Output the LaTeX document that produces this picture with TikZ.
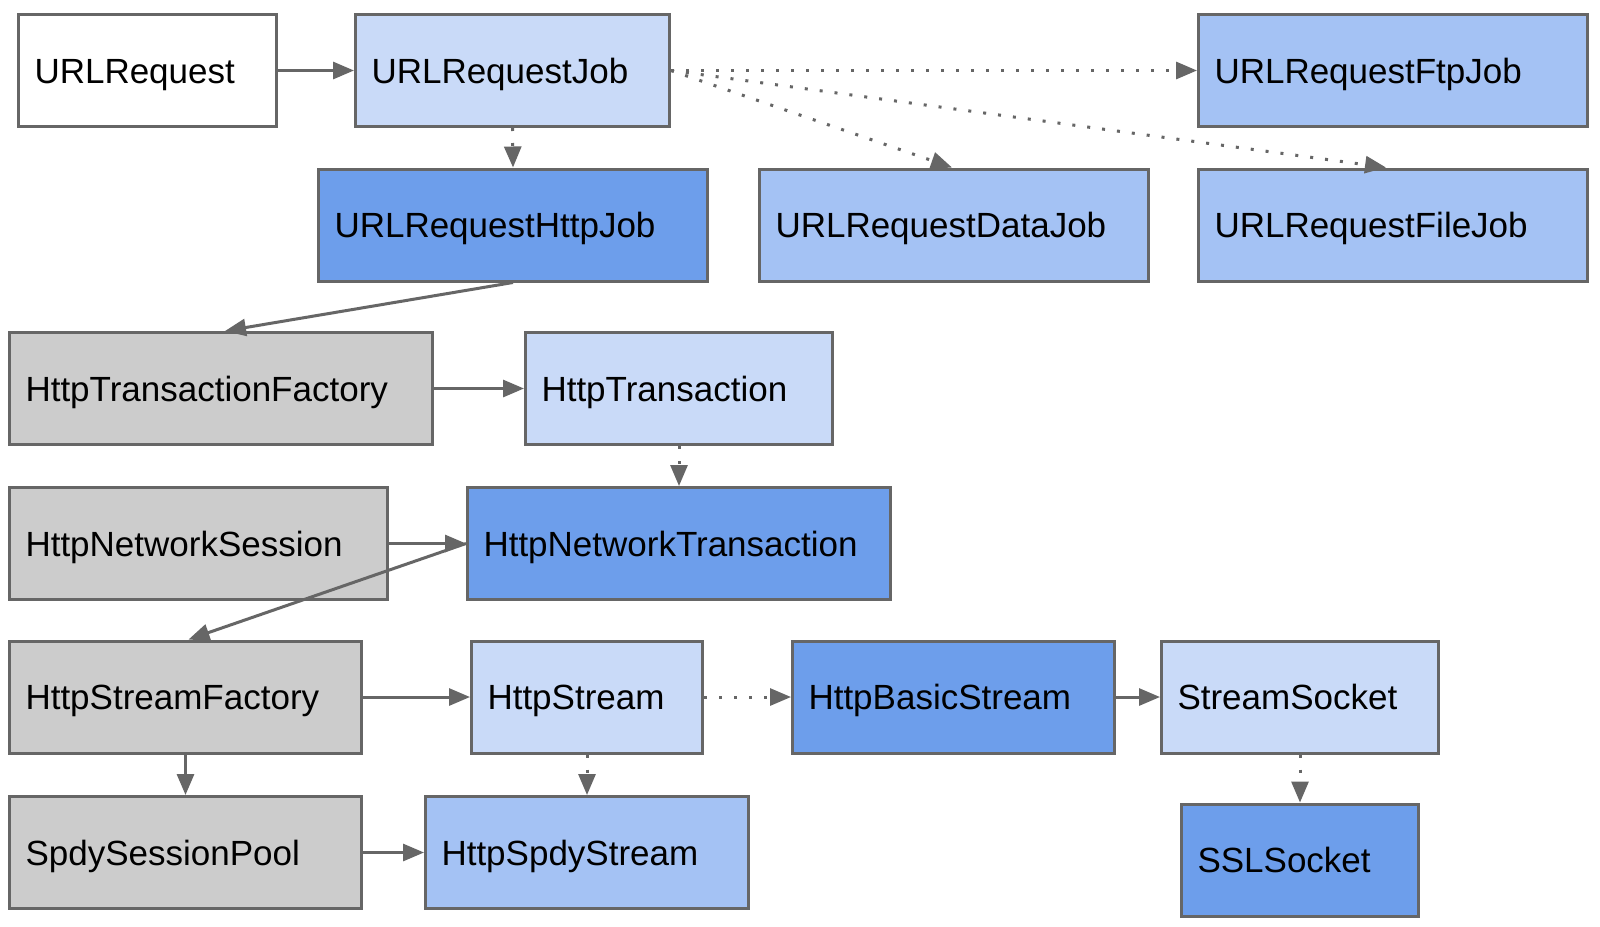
\documentclass[tikz,border=0pt]{standalone}
\usepackage{fontspec}
\setmainfont{Liberation Sans}
\usetikzlibrary{arrows.meta}
\definecolor{edgegray}{HTML}{666666}
\definecolor{lightblue}{HTML}{C9DAF8}
\definecolor{midblue}{HTML}{A4C2F4}
\definecolor{darkblue}{HTML}{6D9EEB}
\definecolor{graybox}{HTML}{CCCCCC}
\tikzset{
  box/.style={draw=edgegray, line width=1.5pt, rectangle, minimum height=56pt,
    inner xsep=8pt, inner ysep=0pt, text height=12.5pt, text depth=0pt,
    align=left, font=\fontsize{17.5}{20}\selectfont, anchor=center},
  bw/.style={minimum width=#1, text width=#1-16pt},
  solidarrow/.style={draw=edgegray, line width=1.5pt, -{Triangle[length=10.5pt,width=8.5pt]}},
  dotarrow/.style={solidarrow, dash pattern=on 1.5pt off 6pt},
}
\begin{document}
\begin{tikzpicture}[x=0.5pt, y=-0.5pt]
\fill[white] (0,0) rectangle (1600,926);
\useasboundingbox (0,0) rectangle (1600,926);

\node[box, bw=129pt, fill=white] (req) at (147.5,70.5) {URLRequest};
\node[box, bw=157pt, fill=lightblue] (job) at (512.5,70.5) {URLRequestJob};
\node[box, bw=194.5pt, fill=midblue] (ftp) at (1393,70.5) {URLRequestFtpJob};
\node[box, bw=194.5pt, fill=darkblue] (http) at (513,225) {URLRequestHttpJob};
\node[box, bw=194.5pt, fill=midblue] (data) at (954,225) {URLRequestDataJob};
\node[box, bw=194.5pt, fill=midblue] (file) at (1393,225) {URLRequestFileJob};
\node[box, bw=211.5pt, fill=graybox] (tf) at (221,388.5) {HttpTransactionFactory};
\node[box, bw=153.5pt, fill=lightblue] (tr) at (679,388.5) {HttpTransaction};
\node[box, bw=189pt, fill=graybox] (ns) at (198.5,543.5) {HttpNetworkSession};
\node[box, bw=211.5pt, fill=darkblue] (nt) at (679,543.5) {HttpNetworkTransaction};
\node[box, bw=176pt, fill=graybox] (sf) at (185.5,697) {HttpStreamFactory};
\node[box, bw=115.5pt, fill=lightblue] (hs) at (587,697) {HttpStream};
\node[box, bw=161pt, fill=darkblue] (bs) at (953.5,697) {HttpBasicStream};
\node[box, bw=138.5pt, fill=lightblue] (ss) at (1300,697) {StreamSocket};
\node[box, bw=176pt, fill=graybox] (sp) at (185.5,852.5) {SpdySessionPool};
\node[box, bw=161.5pt, fill=midblue] (sps) at (587,852.5) {HttpSpdyStream};
\node[box, bw=118.5pt, fill=darkblue] (ssl) at (1300,860) {SSLSocket};

\draw[solidarrow] (req.east) -- (job.west);
\draw[dotarrow] (job.south) -- (http.north);
\draw[dotarrow] (job.east) -- (ftp.west);
\draw[dotarrow] (job.east) -- ([xshift=-1pt]data.north);
\draw[dotarrow] (job.east) -- ([xshift=-3.5pt]file.north);
\draw[solidarrow] (http.south) -- ([xshift=2pt]tf.north);
\draw[solidarrow] (tf.east) -- (tr.west);
\draw[dotarrow] (tr.south) -- (nt.north);
\draw[solidarrow] (ns.east) -- (nt.west);
\draw[solidarrow] (nt.west) -- ([xshift=1.5pt]sf.north);
\draw[solidarrow] (sf.east) -- (hs.west);
\draw[dotarrow] (hs.east) -- (bs.west);
\draw[solidarrow] (bs.east) -- (ss.west);
\draw[dotarrow] (hs.south) -- (sps.north);
\draw[solidarrow] (sf.south) -- (sp.north);
\draw[solidarrow] (sp.east) -- (sps.west);
\draw[dotarrow] (ss.south) -- (ssl.north);
\end{tikzpicture}
\end{document}
